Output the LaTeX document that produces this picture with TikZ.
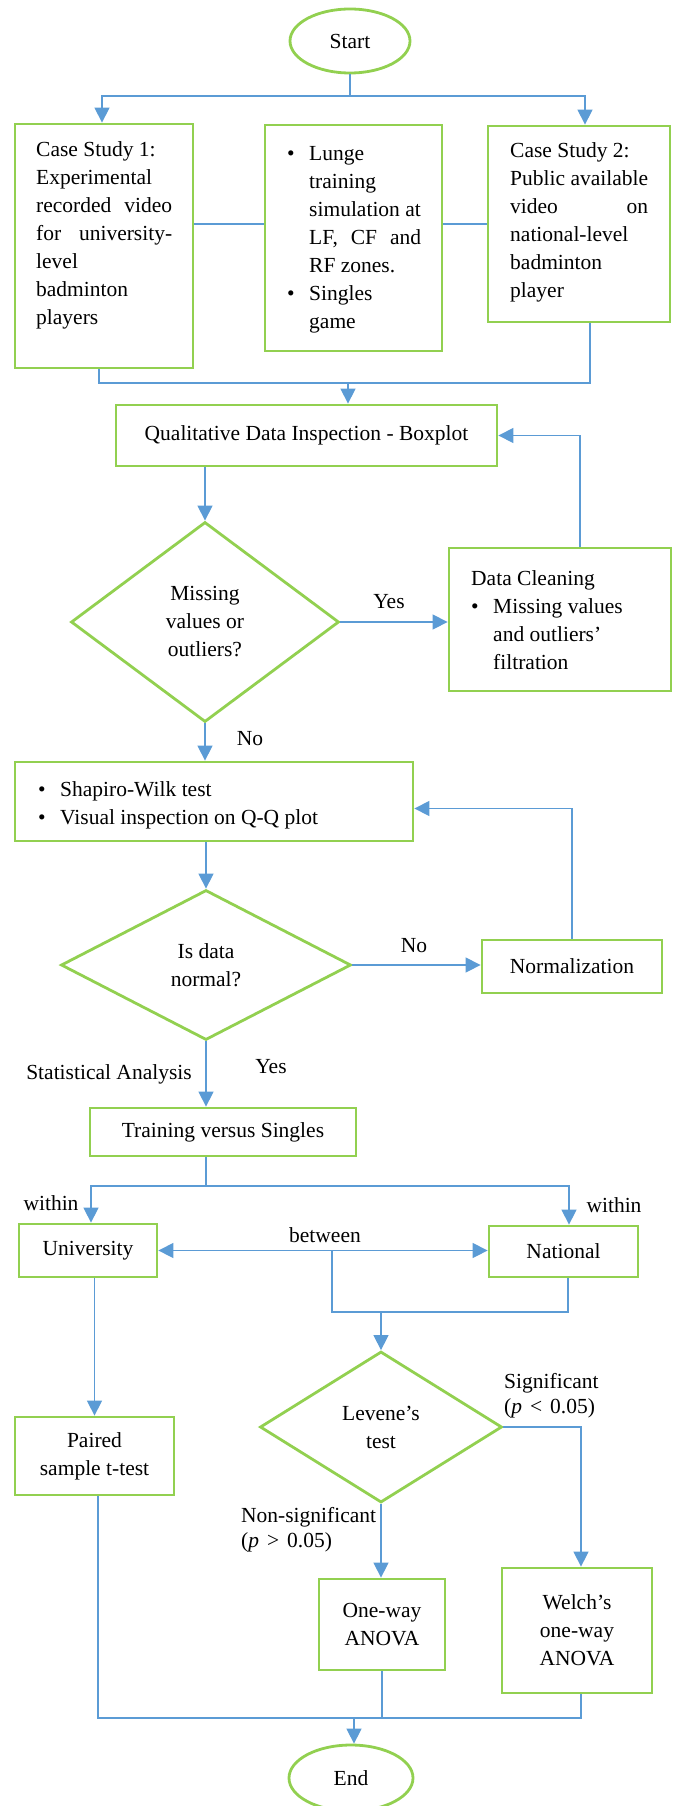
\documentclass[tikz,border=0pt]{standalone}
\usepackage{fontspec}
\setmainfont{Liberation Serif}
\usetikzlibrary{shapes.geometric,arrows.meta}
\definecolor{wgreen}{RGB}{146,208,80}
\definecolor{wblue}{RGB}{91,155,213}
\tikzset{
  box/.style={draw=wgreen, line width=2.8pt, rectangle, inner sep=0pt, align=center},
  oval/.style={draw=wgreen, line width=2.8pt, ellipse, inner sep=0pt},
  diam/.style={draw=wgreen, line width=2.8pt, diamond, inner sep=0pt, align=center},
  txt/.style={inner sep=0pt, align=left, anchor=north west},
  lbl/.style={inner sep=0pt},
  conn/.style={draw=wblue, line width=1.3pt},
  arr/.style={conn, -{Triangle[length=15pt,width=15pt]}},
  darr/.style={conn, {Triangle[length=15pt,width=15pt]}-{Triangle[length=15pt,width=15pt]}},
}
\newcommand{\mybul}{\makebox[22pt][l]{\textbullet}}
\newcommand{\myind}{\hspace*{22pt}}
\newcommand{\rel}[1]{\hspace{8pt}#1\hspace{8pt}}
\begin{document}
\begin{tikzpicture}[x=1pt,y=-1pt,font=\fontsize{21.5}{28}\selectfont]
\useasboundingbox (0,0) rectangle (672,1806);
% nodes
\node[oval, minimum width=120pt, minimum height=64pt] (start) at (350,41) {Start};
\node[box, minimum width=178pt, minimum height=244pt] (cs1) at (104,246) {};
\node[txt] (cs1t) at (36,136.4) {\strut Case Study 1:\\Experimental\\\makebox[136pt][l]{recorded\hfill video}\\\makebox[136pt][l]{for\hfill university-}\\level\\badminton\\players};
\node[box, minimum width=177pt, minimum height=226pt] (mid) at (353.5,238) {};
\node[txt] (midt) at (287,140.4) {\strut\mybul Lunge\\\myind training\\\myind simulation at\\\myind\makebox[112pt][l]{LF,\hfill CF\hfill and}\\\myind RF zones.\\\mybul Singles\\\myind game};
\node[box, minimum width=182pt, minimum height=196pt] (cs2) at (579,224) {};
\node[txt] (cs2t) at (510,137.4) {\strut Case Study 2:\\Public available\\\makebox[138pt][l]{video\hfill on}\\national-level\\badminton\\player};
\node[box, minimum width=381pt, minimum height=61pt] (qdi) at (306.5,435.5) {Qualitative Data Inspection - Boxplot};
\node[diam, minimum width=268pt, minimum height=200pt] (d1) at (205,622) {Missing\\values or\\outliers?};
\node[box, minimum width=222pt, minimum height=143pt] (dc) at (560,619.5) {};
\node[txt] (dct) at (471,565.4) {\strut Data Cleaning\\\mybul Missing values\\\myind and outliers’\\\myind filtration};
\node[box, minimum width=398pt, minimum height=79pt] (sw) at (214,801.5) {};
\node[txt] (swt) at (38,776.4) {\strut\mybul Shapiro-Wilk test\\\mybul Visual inspection on Q-Q plot};
\node[diam, minimum width=290pt, minimum height=150pt] (d2) at (206,965) {Is data\\normal?};
\node[box, minimum width=180pt, minimum height=53pt] (norm) at (572,966.5) {Normalization};
\node[box, minimum width=266pt, minimum height=48pt] (tvs) at (223,1132) {Training versus Singles};
\node[box, minimum width=138pt, minimum height=53pt] (univ) at (88,1250.5) {University};
\node[box, minimum width=149pt, minimum height=51pt] (nat) at (563.5,1251.5) {National};
\node[diam, minimum width=242pt, minimum height=151pt] (lev) at (381,1427) {Levene’s\\test};
\node[box, minimum width=159pt, minimum height=78pt] (paired) at (94.5,1456) {Paired\\sample t-test};
\node[box, minimum width=126pt, minimum height=91pt] (oneway) at (382,1624.5) {One-way\\ANOVA};
\node[box, minimum width=150pt, minimum height=125pt] (welch) at (577,1630.5) {Welch’s\\one-way\\ANOVA};
\node[oval, minimum width=124pt, minimum height=66pt] (finish) at (351,1778) {End};
% labels
\node[lbl] (yes1) at (389,602) {Yes};
\node[lbl] (no1) at (250,739) {No};
\node[lbl] (no2) at (414,946) {No};
\node[lbl] (yes2) at (271,1067) {Yes};
\node[lbl] (stat) at (109,1074) {Statistical Analysis};
\node[lbl] (within1) at (51,1203) {within};
\node[lbl] (within2) at (614,1205) {within};
\node[lbl] (betw) at (325,1235) {between};
\node[lbl, anchor=north west, align=left, font=\fontsize{21.5}{25}\selectfont] (sig) at (504,1370.5) {\strut Significant\\(\textit{p}\rel{<}0.05)};
\node[lbl, anchor=north west, align=left, font=\fontsize{21.5}{25}\selectfont] (nsig) at (241,1504.5) {\strut Non-significant\\(\textit{p}\rel{>}0.05)};
% connectors
\coordinate (j1) at (350,96);
\draw[conn] (start.south) -- (j1);
\draw[arr] (j1) -| ([xshift=-2pt]cs1.north);
\draw[arr] (j1) -| ([xshift=6pt]cs2.north);
\coordinate (ya) at (0,224);
\draw[conn] (cs1.east |- ya) -- (mid.west |- ya);
\draw[conn] (mid.east |- ya) -- (cs2.west |- ya);
\coordinate (j2) at (348,383);
\coordinate (c1b) at ([xshift=-5pt]cs1.south);
\coordinate (c2b) at ([xshift=11pt]cs2.south);
\draw[conn] (c1b) |- (j2) -| (c2b);
\draw[arr] (j2) -- (j2 |- qdi.north);
\draw[arr] (qdi.south -| d1.north) -- (d1.north);
\draw[arr] (d1.east) -- (d1.east -| dc.west);
\draw[arr] ([xshift=20pt]dc.north) |- (qdi.east);
\draw[arr] (d1.south) -- (d1.south |- sw.north);
\draw[arr] (sw.south -| d2.north) -- (d2.north);
\draw[arr] (d2.east) -- (d2.east -| norm.west);
\draw[arr] (norm.north) |- ([yshift=-7pt]sw.east);
\draw[arr] (d2.south) -- (d2.south |- tvs.north);
\coordinate (j3) at (206,1186);
\draw[conn] (tvs.south -| j3) -- (j3);
\draw[arr] (j3) -| ([xshift=3pt]univ.north);
\draw[arr] (j3) -| ([xshift=5.5pt]nat.north);
\draw[darr] (univ.east) -- (univ.east -| nat.west);
\coordinate (j4) at (332,1250.5);
\coordinate (j5) at (381,1312);
\coordinate (nb) at ([xshift=4.5pt]nat.south);
\draw[conn] (j4) |- (nb |- j5) -- (nb);
\draw[arr] (j5) -- (lev.north);
\draw[arr] (univ.south -| paired.north) -- (paired.north);
\draw[arr] (lev.east) -| ([xshift=4pt]welch.north);
\draw[arr] (lev.south) -- (lev.south |- oneway.north);
\coordinate (j7) at (354,1718);
\coordinate (pb) at ([xshift=3.5pt]paired.south);
\coordinate (wb) at ([xshift=4pt]welch.south);
\draw[conn] (pb) |- (wb |- j7) -- (wb);
\draw[conn] (oneway.south) -- (oneway.south |- j7);
\draw[arr] (j7) -- (j7 |- finish.north);
\end{tikzpicture}
\end{document}
